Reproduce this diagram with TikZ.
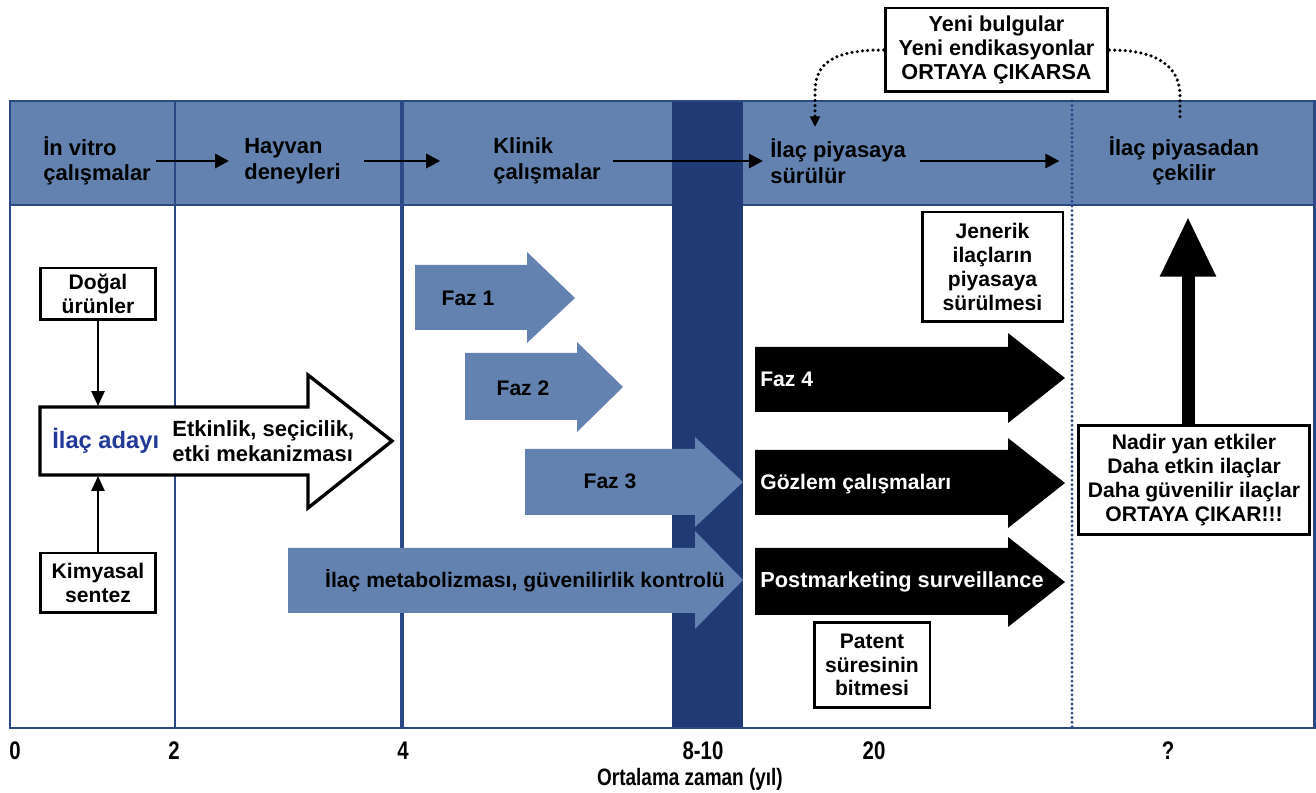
\documentclass[tikz,border=0pt]{standalone}
\usepackage{fontspec}
\setmainfont{Liberation Sans}
\newfontfamily\narrowfont{Liberation Sans}[FakeStretch=0.8]
\usetikzlibrary{arrows.meta}
\definecolor{hdr}{HTML}{6482B0}
\definecolor{darkcol}{HTML}{1F3A75}
\definecolor{framecol}{HTML}{2B4887}
\definecolor{adaycol}{HTML}{22399A}
\begin{document}
\begin{tikzpicture}[x=0.02cm,y=-0.02cm,
  txt/.style={font=\bfseries\fontsize{12}{13.5}\selectfont, inner sep=0pt, align=left},
  htxt/.style={font=\bfseries\fontsize{12.5}{14.5}\selectfont, inner sep=0pt, align=left},
  ctxt/.style={font=\bfseries\fontsize{12.5}{14.5}\selectfont, inner sep=0pt, align=center},
  boxed/.style={draw=black, line width=1.7pt, fill=white, inner sep=0pt, align=center,
    font=\bfseries\fontsize{12}{13.5}\selectfont},
  hdrarrow/.style={line width=1.7pt, -{Triangle[length=8pt,width=8pt]}},
  thinarrow/.style={line width=1.1pt, -{Triangle[length=8.5pt,width=7.5pt]}},
  mydots/.style={line width=2pt, dash pattern=on 0pt off 3pt, line cap=round},
  bluearrow/.style={fill=hdr},
  blackarrow/.style={fill=black},
  axis/.style={font=\narrowfont\bfseries\fontsize{14.5}{16}\selectfont, inner sep=0pt},
  axtitle/.style={font=\narrowfont\bfseries\fontsize{13.5}{15}\selectfont, inner sep=0pt}]
\useasboundingbox (0,0) rectangle (1316,793);
\fill[white] (0,0) rectangle (1316,793);
% header band
\fill[hdr] (10,101) rectangle (1314,205);
% dark column
\fill[darkcol] (672,101) rectangle (743,728);
% frame
\draw[framecol, line width=1.7pt] (10,101) rectangle (1314,728);
\draw[framecol, line width=1.7pt] (10,205) -- (672,205);
\draw[framecol, line width=1.7pt] (743,205) -- (1314,205);
\draw[framecol, line width=1.4pt] (175,101) -- (175,728);
\draw[framecol, line width=2.8pt] (402,101) -- (402,728);
\draw[framecol, line width=1.8pt, dash pattern=on 0pt off 2.6pt, line cap=round] (1072,101) -- (1072,728);

% header texts
\node[htxt, anchor=west] (invitro) at (43,161) {İn vitro\\çalışmalar};
\node[htxt, anchor=west] (hayvan) at (244,161) {Hayvan\\deneyleri};
\node[htxt, anchor=west] (klinik) at (493,161) {Klinik\\çalışmalar};
\node[htxt, anchor=west] (piyasaya) at (770,161) {İlaç piyasaya\\sürülür};
\node[ctxt] (cekilir) at (1184,161) {İlaç piyasadan\\çekilir};
\draw[hdrarrow] ([xshift=3pt]invitro.east) -- ([xshift=-8.5pt]hayvan.west);
\draw[hdrarrow] ([xshift=13pt]hayvan.east) -- ([xshift=-30pt]klinik.west);
\draw[hdrarrow] ([xshift=7pt]klinik.east) -- ([xshift=-4pt]piyasaya.west);
\draw[hdrarrow] ([xshift=8pt]piyasaya.east) -- ([xshift=-28pt]cekilir.west);

% top box and dotted connectors
\node[boxed, minimum width=4.46cm, minimum height=1.68cm, font=\bfseries\fontsize{12.3}{13.8}\selectfont] (topbox) at (996.5,50) {Yeni bulgular\\Yeni endikasyonlar\\ORTAYA ÇIKARSA};
\coordinate (dtip) at (815,127);
\coordinate (dend) at (1180,120);
\draw[mydots, -{Triangle[length=6pt,width=5.5pt]}] (topbox.west) .. controls (835,50) and (815,62) .. (815,92) -- (dtip);
\draw[mydots] (topbox.east) .. controls (1160,50) and (1180,68) .. (1180,96) -- (dend);

% left column
\node[boxed, minimum width=2.3cm, minimum height=1.04cm] (dogal) at (98,294) {Doğal\\ürünler};
\node[boxed, minimum width=2.3cm, minimum height=1.2cm] (kimya) at (98,583) {Kimyasal\\sentez};
\fill[white] (40,407) -- (308,407) -- (308,375) -- (392,441) -- (308,508) -- (308,475) -- (40,475) -- cycle;
\draw[black, line width=1.9pt, line join=miter] (40,407) -- (308,407) -- (308,375) -- (392,441) -- (308,508) -- (308,475) -- (40,475) -- cycle;
\coordinate (adaytop) at (98,406);
\coordinate (adaybot) at (98,476);
\draw[thinarrow] (dogal.south) -- (adaytop);
\draw[thinarrow] (kimya.north) -- (adaybot);
\node[txt, anchor=west, text=adaycol, font=\bfseries\fontsize{13.5}{15}\selectfont] (aday) at (52,441) {İlaç adayı};
\node[txt, anchor=west, font=\bfseries\fontsize{12.5}{14}\selectfont] (etkinlik) at (172,441) {Etkinlik, seçicilik,\\etki mekanizması};

% blue phase arrows
\fill[bluearrow] (415,265) -- (527,265) -- (527,252) -- (575,298) -- (527,343) -- (527,330) -- (415,330) -- cycle;
\fill[bluearrow] (465,353) -- (577,353) -- (577,342) -- (623,387) -- (577,432) -- (577,420) -- (465,420) -- cycle;
\fill[bluearrow] (525,449) -- (695,449) -- (695,437) -- (743,482) -- (695,527) -- (695,515) -- (525,515) -- cycle;
\fill[bluearrow] (288,548) -- (695,548) -- (695,531) -- (743,580) -- (695,629) -- (695,613) -- (288,613) -- cycle;
\node[txt] (faz1) at (468,298) {Faz 1};
\node[txt] (faz2) at (523,388) {Faz 2};
\node[txt] (faz3) at (610,481) {Faz 3};
\node[txt] (metab) at (525,581) {İlaç metabolizması, güvenilirlik kontrolü};

% black arrows
\fill[blackarrow] (755,347) -- (1008,347) -- (1008,333) -- (1065,378) -- (1008,423) -- (1008,412) -- (755,412) -- cycle;
\fill[blackarrow] (755,450) -- (1008,450) -- (1008,438) -- (1065,483) -- (1008,528) -- (1008,515) -- (755,515) -- cycle;
\fill[blackarrow] (755,548) -- (1008,548) -- (1008,537) -- (1065,582) -- (1008,627) -- (1008,615) -- (755,615) -- cycle;
\node[txt, anchor=west, text=white] (faz4) at (760,379) {Faz 4};
\node[txt, anchor=west, text=white] (gozlem) at (760,484) {Gözlem çalışmaları};
\node[txt, anchor=west, text=white, font=\bfseries\fontsize{12.4}{14}\selectfont] (pms) at (760,582) {Postmarketing surveillance};

% boxes right
\node[boxed, minimum width=2.82cm, minimum height=2.2cm] (jenerik) at (992.5,267) {Jenerik\\ilaçların\\piyasaya\\sürülmesi};
\node[boxed, minimum width=2.32cm, minimum height=1.72cm] (patent) at (872,665) {Patent\\süresinin\\bitmesi};
\node[boxed, minimum width=4.64cm, minimum height=2.2cm] (nadir) at (1194,480) {Nadir yan etkiler\\Daha etkin ilaçlar\\Daha güvenilir ilaçlar\\ORTAYA ÇIKAR!!!};
\coordinate (uptip) at (1188,217);
\draw[line width=7.4pt, -{Triangle[length=34pt,width=30pt]}] (nadir.north -| uptip) -- (uptip);

% axis labels
\node[axis] (t0) at (15,751) {0};
\node[axis] (t2) at (174,751) {2};
\node[axis] (t4) at (403,751) {4};
\node[axis] (t810) at (703,751) {8-10};
\node[axis] (t20) at (874,751) {20};
\node[axis] (tq) at (1168,751) {?};
\node[axtitle] (olabel) at (690,779) {Ortalama zaman (yıl)};
\end{tikzpicture}
\end{document}
